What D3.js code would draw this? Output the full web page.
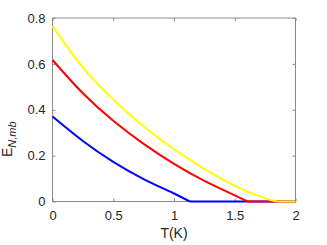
<!DOCTYPE html>
<html>
<head>
<meta charset="utf-8">
<script src="https://cdn.jsdelivr.net/npm/d3@7"></script>
<style>
  body { margin: 0; background: #fff; }
  svg { display: block; font-family: "Liberation Sans", Arial, sans-serif; }
</style>
</head>
<body>
<svg id="chart" width="327" height="245"></svg>
<script>
// values (last point of each series: flat tail at zero)
var blueT = [0, 0.25, 0.5, 0.75, 1.0, 1.13, 2];
var blueE = [0.371, 0.264, 0.173, 0.098, 0.035, 0, 0];

var redT = [0, 0.25, 0.5, 0.75, 1.0, 1.25, 1.5, 1.605, 2];
var redE = [0.617, 0.472, 0.352, 0.251, 0.164, 0.09, 0.027, 0, 0];

var yellowT = [0, 0.25, 0.5, 0.75, 1.0, 1.25, 1.5, 1.75, 1.85, 2];
var yellowE = [0.765, 0.584, 0.445, 0.327, 0.228, 0.142, 0.068, 0.014, 0, 0];

var xTicks = [0, 0.5, 1, 1.5, 2];
var yTicks = [0, 0.2, 0.4, 0.6, 0.8];

var svg = d3.select("#chart");
var mLeft = 52.5, mRight = 295.5, mTop = 18, mBottom = 201.5;

var x = d3.scaleLinear().domain([0, 2]).range([mLeft, mRight]);
var y = d3.scaleLinear().domain([0, 0.8]).range([mBottom, mTop]);

var axisColor = "#8a8a8a";

// box
svg.append("rect")
  .attr("x", mLeft).attr("y", mTop)
  .attr("width", mRight - mLeft).attr("height", mBottom - mTop)
  .attr("fill", "none").attr("stroke", axisColor).attr("stroke-width", 1);

// axes with inward ticks
var xAxis = svg.append("g").attr("transform", "translate(0," + mBottom + ")")
  .call(d3.axisBottom(x).tickValues(xTicks).tickSizeInner(-3).tickSizeOuter(0)
    .tickPadding(9).tickFormat(d3.format("")));
var yAxis = svg.append("g").attr("transform", "translate(" + mLeft + ",0)")
  .call(d3.axisLeft(y).tickValues(yTicks).tickSizeInner(-3).tickSizeOuter(0)
    .tickPadding(7).tickFormat(d3.format("")));
var xTop = svg.append("g").attr("transform", "translate(0," + mTop + ")")
  .call(d3.axisTop(x).tickValues(xTicks).tickSizeInner(-3).tickSizeOuter(0).tickFormat(""));
var yRight = svg.append("g").attr("transform", "translate(" + mRight + ",0)")
  .call(d3.axisRight(y).tickValues(yTicks).tickSizeInner(-3).tickSizeOuter(0).tickFormat(""));

[xAxis, yAxis, xTop, yRight].forEach(function(g) {
  g.select(".domain").remove();
  g.selectAll("line").attr("stroke", axisColor);
  g.selectAll("text").attr("fill", "#262626").style("font-size", "13px")
    .style("font-family", "Liberation Sans, Arial, sans-serif");
});

// curves: smooth decreasing part, straight flat tail
var curved = d3.line()
  .x(function(d) { return x(d[0]); })
  .y(function(d) { return y(d[1]); })
  .curve(d3.curveNatural);
var straight = d3.line()
  .x(function(d) { return x(d[0]); })
  .y(function(d) { return y(d[1]); });

function drawSeries(ts, es, color) {
  var pts = ts.map(function(t, i) { return [t, es[i]]; });
  var n = pts.length;
  var g = svg.append("g")
    .attr("fill", "none")
    .attr("stroke", color)
    .attr("stroke-width", 2);
  g.append("path").datum(pts.slice(0, n - 1)).attr("d", curved);
  g.append("path").datum(pts.slice(n - 2)).attr("d", straight);
}
drawSeries(blueT, blueE, "#0000ff");
drawSeries(redT, redE, "#ff0000");
drawSeries(yellowT, yellowE, "#ffff00");

// labels
svg.append("text")
  .attr("x", (mLeft + mRight) / 2).attr("y", 238)
  .attr("text-anchor", "middle")
  .attr("fill", "#262626")
  .style("font-size", "14px")
  .text("T(K)");

var yl = svg.append("text")
  .attr("transform", "translate(12,157) rotate(-90)")
  .attr("fill", "#262626")
  .style("font-size", "14px");
yl.append("tspan").text("E");
yl.append("tspan").attr("dy", 4).style("font-size", "11px").style("font-style", "italic").text("N,mb");
</script>
</body>
</html>
